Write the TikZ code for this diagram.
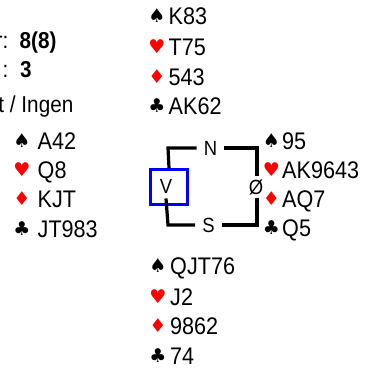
\documentclass[tikz,border=0pt]{standalone}
\usepackage{fontspec}
\setmainfont{Liberation Sans}
\newfontfamily\handfont[FakeStretch=0.9]{Liberation Sans}
\newfontfamily\suitfont{DejaVu Sans}

\begin{document}
\begin{tikzpicture}
  [x=1pt, y=-1pt]
  \tikzstyle{cards} = [anchor=west, inner sep=0pt, text height=17.2pt, text depth=0pt, font=\handfont\fontsize{24}{24}\selectfont];
  \tikzstyle{suit} = [inner sep=0pt, font=\suitfont\fontsize{19}{19}\selectfont];
  \tikzstyle{black_suit} = [suit, text=black];
  \tikzstyle{red_suit}   = [suit, text=red];
  \tikzstyle{seat} = [inner xsep=7pt, inner ysep=4pt, text height=14.5pt, text depth=0pt, font=\handfont\fontsize{20.5}{20.5}\selectfont];
  \tikzstyle{info} = [inner sep=0pt, text height=16pt, text depth=0pt, font=\handfont\fontsize{23}{23}\selectfont];
  \tikzstyle{frame} = [line width=3.2pt];

  \useasboundingbox (0,0) rectangle (365,374);

  % contract info, cut at the left edge
  \node[info, anchor=east] (declarer) at (8.5, 41) {r:};
  \node[info, anchor=west] (tricks) at (19.5, 41) {\bfseries 8(8)};
  \node[info, anchor=east] (lead) at (8.5, 70) {:};
  \node[info, anchor=west] (leadno) at (20, 70) {\bfseries 3};
  \node[info, anchor=east] (vuln) at (73.5, 105) {t / Ingen};

  % north
  \node[black_suit] (nS) at (157, 16) {♠};
  \node[red_suit]   (nH) at (157, 47) {♥};
  \node[red_suit]   (nD) at (157, 77) {♦};
  \node[black_suit] (nC) at (157, 106) {♣};
  \node[cards] (nSc) at (168.5, 16) {K83};
  \node[cards] (nHc) at (168.5, 47) {T75};
  \node[cards] (nDc) at (168.5, 77) {543};
  \node[cards] (nCc) at (168.5, 106) {AK62};

  % west
  \node[black_suit] (wS) at (22, 141) {♠};
  \node[red_suit]   (wH) at (22, 170) {♥};
  \node[red_suit]   (wD) at (22, 199) {♦};
  \node[black_suit] (wC) at (22, 229) {♣};
  \node[cards] (wSc) at (37.5, 141) {A42};
  \node[cards] (wHc) at (37.5, 170) {Q8};
  \node[cards] (wDc) at (37.5, 199) {KJT};
  \node[cards] (wCc) at (37.5, 229) {JT983};

  % east
  \node[black_suit] (eS) at (271.5, 141) {♠};
  \node[red_suit]   (eH) at (271.5, 170) {♥};
  \node[red_suit]   (eD) at (271.5, 199) {♦};
  \node[black_suit] (eC) at (271.5, 228) {♣};
  \node[cards] (eSc) at (282, 141) {95};
  \node[cards] (eHc) at (282, 170) {AK9643};
  \node[cards] (eDc) at (282, 199) {AQ7};
  \node[cards] (eCc) at (282, 228) {Q5};

  % south
  \node[black_suit] (sS) at (158, 266) {♠};
  \node[red_suit]   (sH) at (158, 297) {♥};
  \node[red_suit]   (sD) at (158, 326) {♦};
  \node[black_suit] (sC) at (158, 356) {♣};
  \node[cards] (sSc) at (170, 266) {QJT76};
  \node[cards] (sHc) at (170, 297) {J2};
  \node[cards] (sDc) at (170, 326) {9862};
  \node[cards] (sCc) at (170, 356) {74};

  % table
  \coordinate (nw) at (168, 148);
  \coordinate (ne) at (257, 148);
  \coordinate (sw) at (168, 225);
  \coordinate (se) at (257, 225);

  \node[draw=blue, line width=3pt, minimum width=37pt, minimum height=35pt, inner sep=0pt] (vbox) at (169, 187) {};

  \node[seat] (north) at (210.5, 148) {N};
  \node[seat] (south) at (208.5, 225) {S};
  \node[seat, inner ysep=5pt] (west) at (166, 186) {V};
  \node[seat] (east) at (256, 187) {Ø};

  \draw[frame] (north.west) -- (nw) -- (vbox.north);
  \draw[frame] (west.south) -- (sw) -- (south.west);
  \draw[frame] (south.east) -- (se) -- (east.south -| se);
  \draw[frame] (east.north -| ne) -- (ne) -- (north.east);

\end{tikzpicture}
\end{document}
